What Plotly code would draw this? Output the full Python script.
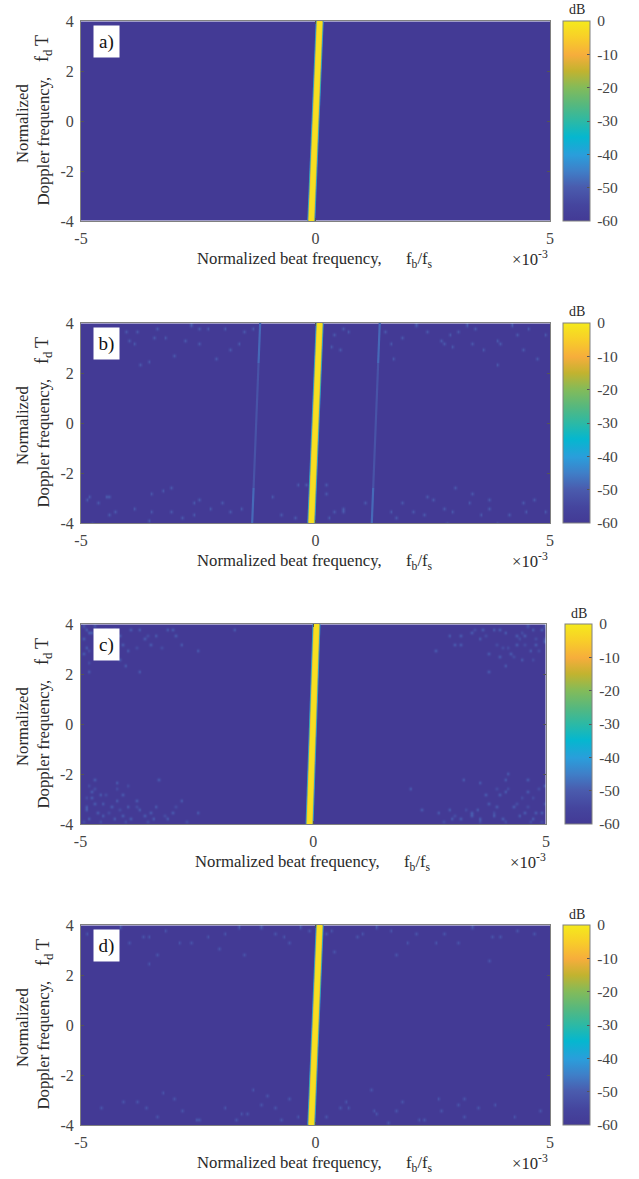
import plotly.graph_objects as go
from plotly.colors import sample_colorscale

PANEL_NAMES = ["a)", "b)", "c)", "d)"]
X_TICKS = [-5, 0, 5]
X_TICK_TEXT = ["-5", "0", "5"]
Y_TICKS = [-4, -2, 0, 2, 4]
Y_TICK_TEXT = ["-4", "-2", "0", "2", "4"]
DB_TICKS = [0, -10, -20, -30, -40, -50, -60]
DB_TICK_TEXT = ["\u20090", "\u2009-10", "\u2009-20", "\u2009-30", "\u2009-40", "\u2009-50", "\u2009-60"]
COLOR_STOPS = [
    [0.0, "#433a95"], [0.08, "#45459e"], [0.17, "#4a5cae"], [0.25, "#3f7fc8"],
    [0.33, "#2a9edb"], [0.42, "#05b7cf"], [0.5, "#2cb9a5"], [0.58, "#55b87f"],
    [0.67, "#85bb58"], [0.75, "#c2b32f"], [0.83, "#f6ad3c"], [0.92, "#f8cf28"],
    [1.0, "#f5ea1c"],
]
BASE_DB = -60

# ridge end points, x in units of 1e-3, at fd = -4 and fd = 4
FD_ENDS = [-4, 4]
A_RIDGE = [-0.09, 0.09]
B_RIDGE = [-0.09, 0.09]
C_RIDGE = [-0.08, 0.07]
D_RIDGE = [-0.09, 0.09]
RIDGE_DB = [-42, -28, -10, -2]
GHOST_FD = [-4, -2.6, 2.4, 4]
GHOST_LEFT = [-1.35, -1.32, -1.214, -1.18]
GHOST_RIGHT = [1.20, 1.23, 1.336, 1.37]
GHOST_DB = [-48, -52, -48]

B_SPOT_X = [-4.05, -3.8, -3.98, -3.84, -3.2, -3.38, -3.0, -2.46, -2.5, -2.1, -1.64, -1.36, -1.54, -3.42, -3.73, -2.78, -2.67, -1.92, -2.28, -3.56, -1.82,
            0.7, 0.42, 0.34, 0.49, 1.51, 1.62, 1.83, 2.12, 2.4, 2.65, 2.72, 2.93, 3.04, 3.43, 3.57, 3.93, 3.89, 4.39, 4.53, 4.88, 4.71, 3.86, 1.66, 2.86, 3.22, 3.32, 4.17, 4.32, 0.59,
            -4.83, -4.87, -4.66, -4.48, -4.41, -3.52, -3.09, -3.24, -2.63, -2.49, -2.03, -3.84, -4.27, -4.41, -3.49, -3.59, -3.06, -2.21, -1.82, -0.93, -0.72, -0.44, -0.37, -0.19, -4.73, -2.6, -2.84, -1.57,
            0.24, 0.42, 0.56, 0.2, 0.27, 1.05, 0.59, 1.59, 1.87, 2.37, 2.51, 2.97, 3.32, 3.25, 2.72, 2.9, 3.54, 3.68, 3.71, 4.14, 4.42, 4.67, 4.92, 4.49, 2.3, 1.73, 2.83, 2.05, 3.89]
B_SPOT_Y = [3.72, 3.72, 3.32, 3.25, 3.45, 3.85, 2.72, 3.19, 3.85, 2.65, 3.25, 3.85, 3.72, 3.45, 2.39, 3.32, 3.92, 3.85, 3.85, 2.45, 3.0,
            3.72, 3.59, 3.12, 2.92, 3.72, 3.19, 3.45, 3.92, 3.72, 3.32, 3.19, 3.12, 3.72, 3.85, 2.92, 3.19, 3.32, 3.0, 3.85, 3.52, 2.59, 2.32, 2.59, 3.52, 3.92, 3.25, 3.92, 3.59, 3.85,
            -2.88, -3.08, -3.21, -2.88, -2.88, -2.75, -2.55, -2.68, -3.21, -3.01, -3.21, -3.41, -3.55, -3.61, -3.48, -3.88, -3.55, -3.41, -3.55, -2.88, -3.61, -3.75, -2.48, -2.48, -3.95, -3.61, -3.81, -3.35,
            -2.48, -3.55, -3.55, -2.81, -3.75, -3.15, -3.35, -3.55, -3.21, -2.88, -3.01, -2.55, -2.81, -3.21, -3.41, -3.48, -3.61, -3.41, -3.01, -3.61, -3.21, -3.01, -3.55, -3.55, -3.68, -3.81, -3.95, -3.55, -3.95]
C_SPOT_X = [-4.9, -4.83, -4.75, -4.93, -4.9, -4.07, -4.0, -3.9, -3.72, -3.65, -3.47, -3.04, -2.96, -2.82, -2.5, -1.71, -4.79, -3.76, -4.04, -4.15, -3.36, -3.15, -4.25, -4.15, -4.93,
            -4.9, -4.86, -4.75, -4.72, -4.65, -4.5, -4.36, -4.22, -4.11, -4.0, -3.9, -3.72, -3.65, -3.5, -3.36, -3.29, -3.15, -2.82, -4.68, -4.83, -4.5, -4.22, -3.83, -3.43, -3.0, -2.5, -4.58, -4.75, -4.29, -4.07,
            3.01, 3.19, 2.61, 3.15, 3.87, 4.0, 4.15, 4.33, 4.54, 4.72, 4.9, 4.94, 3.79, 4.0, 4.12, 4.47, 4.65, 3.58, 2.93, 3.79, 4.76, 4.37, 3.65, 3.4, 4.22,
            3.37, 3.51, 3.4, 4.0, 4.15, 4.61, 4.79, 4.9, 3.72, 3.79, 3.94, 4.29, 4.44, 4.54, 2.08, 2.33, 2.69, 2.97, 3.15, 3.58, 3.87, 4.08, 4.69, 4.94, 3.22, 4.15, 3.58, 4.61, 4.19, 2.93]
C_SPOT_Y = [3.78, 3.65, 3.71, 3.38, 3.11, 3.25, 2.91, 3.78, 3.85, 3.38, 3.25, 3.78, 3.58, 3.25, 2.98, 3.85, 2.11, 2.11, 2.38, 2.65, 3.58, 3.85, 3.78, 3.58, 2.85,
            -3.42, -3.29, -2.69, -3.15, -3.55, -3.69, -3.29, -2.35, -2.75, -3.29, -3.82, -3.42, -3.69, -3.55, -3.29, -2.22, -3.82, -3.02, -2.22, -3.75, -3.15, -3.02, -3.09, -3.75, -3.55, -3.55, -2.82, -2.95, -3.75, -3.69,
            3.25, 3.25, 2.98, 3.58, 3.78, 3.85, 3.71, 3.58, 3.58, 3.78, 3.78, 3.31, 2.85, 2.78, 2.38, 2.58, 2.91, 3.38, 3.58, 2.11, 3.25, 3.25, 3.78, 3.71, 2.85,
            -3.55, -3.42, -3.69, -2.75, -2.69, -2.69, -3.49, -3.55, -2.82, -3.15, -3.29, -3.29, -3.69, -3.49, -2.55, -3.42, -3.49, -3.82, -3.82, -3.75, -3.69, -3.82, -3.75, -2.42, -2.22, -2.22, -2.35, -2.15, -1.95, -3.35]
# fainter cells filling the corners of panel c
C_FAINT_X = [-4.95, -4.7, -4.6, -4.45, -4.85, -4.55, -4.35, -3.55, -3.25, -4.95, -4.65, -4.4, -3.8, -4.2, -4.8, -4.95, -4.6, -4.4, -4.05, -3.8, -3.55, -3.2, -2.95, -2.7, -4.9, -4.7, -4.45, -4.2, -3.95, -4.6, -4.85, -4.15,
             4.95, 4.8, 4.6, 4.4, 4.2, 3.95, 3.7, 3.45, 4.85, 4.55, 4.3, 4.05, 4.7, 4.95, 4.5, 4.9, 4.65, 4.4, 4.1, 3.85, 3.6, 3.3, 3.05, 2.8, 4.95, 4.75, 4.45, 4.2, 3.95, 4.6, 4.85, 4.35]
C_FAINT_Y = [3.9, 3.9, 3.5, 3.85, 2.95, 3.2, 3.45, 3.6, 3.1, 3.5, 2.7, 2.9, 3.05, 3.35, 2.45, -3.9, -3.85, -3.5, -3.9, -3.25, -3.85, -3.65, -3.25, -3.85, -2.95, -2.55, -2.8, -2.6, -2.45, -3.9, -2.45, -3.35,
             3.9, 3.45, 3.9, 3.45, 3.1, 3.15, 3.6, 3.85, 2.95, 3.25, 2.75, 3.05, 2.6, 3.5, 3.65, -3.9, -3.85, -3.6, -3.9, -3.55, -3.9, -3.45, -3.6, -3.85, -3.1, -2.9, -2.95, -2.6, -2.5, -3.3, -2.5, -3.1]
D_SPOT_X = [-4.16, -3.7, -3.59, -3.95, -3.2, -2.92, -2.67, -2.28, -1.93, -1.64, -1.54, -2.07, -3.38, -3.59, -0.86, -0.68, -0.58, -0.15, -0.29, 0.34, 0.2, 0.38, 0.88, 0.98, 1.3, 1.69, 2.12, 2.54, 2.76, 3.07, 3.36, 3.78, 3.96, 4.32, 4.64, 3.71, -1.18, -4.9, 1.62, 1.98,
            -1.32, 1.16, -2.49, -2.56, -1.46, -1.57, -1.18, -1.93, -0.86, -0.58, -3.63, -3.77, -3.38, -2.81, -1.71, -4.58, -4.12, -3.02, -3.24, -0.72, -0.37, 0.2, 0.49, 0.63, 0.7, 1.3, 1.23, 1.73, 2.33, 2.22, 2.65, 3.15, 3.04, 3.46, 3.18, 3.82, 4.25, 4.81, 1.87, -1.04, 2.61, 1.55]
D_SPOT_Y = [3.93, 3.6, 3.53, 3.27, 3.8, 3.33, 3.27, 3.6, 3.73, 3.87, 2.8, 3.07, 2.8, 2.53, 3.67, 3.53, 3.33, 3.8, 3.93, 3.8, 3.67, 2.93, 3.53, 3.73, 3.93, 2.8, 3.73, 3.27, 3.67, 3.33, 3.87, 3.53, 3.6, 3.8, 3.73, 2.6, 3.93, 3.73, 3.8, 3.33,
            -2.6, -2.6, -3.73, -3.73, -3.53, -3.53, -3.2, -3.33, -3.33, -2.93, -3.33, -3.07, -3.6, -3.4, -3.8, -3.33, -3.0, -2.87, -2.73, -3.73, -3.67, -3.67, -3.33, -3.07, -3.33, -3.53, -3.4, -3.4, -3.73, -3.73, -3.4, -2.93, -3.13, -3.33, -3.6, -3.2, -3.67, -3.4, -3.0, -2.8, -2.87, -3.87]
B_SPOT_DB = -50
C_SPOT_DB = -49
C_FAINT_DB = -52
D_SPOT_DB = -51

RIDGES = [A_RIDGE, B_RIDGE, C_RIDGE, D_RIDGE]
SPOTS = [[], [(B_SPOT_X, B_SPOT_Y, B_SPOT_DB)],
         [(C_FAINT_X, C_FAINT_Y, C_FAINT_DB), (C_SPOT_X, C_SPOT_Y, C_SPOT_DB)],
         [(D_SPOT_X, D_SPOT_Y, D_SPOT_DB)]]

W, H = 639, 1179
TOPS = [21, 323, 624, 925]
LEFTS = [81, 81, 80.5, 81]
RIGHTS = [550, 550, 546, 550]
BAR_LEFTS = [563, 563, 565, 563]
PANEL_H, BAR_W, RIDGE_W = 200, 27, [8, 7, 6, 5]
DX, DY = 0.06, 0.12
NX, NY = 167, 67
FONT = "Liberation Serif"
TXT, TICK = "#2a2a2a", "#444444"

grid_x = [-5 + i * DX for i in range(NX)]
grid_y = [-4 + j * DY for j in range(NY)]

fig = go.Figure()
annotations = []

def note(px, py, text, size=16.7, angle=0, color=TXT, **kw):
    annotations.append(dict(xref="paper", yref="paper", x=px / W, y=1 - py / H, text=text,
                            showarrow=False, textangle=angle, xanchor="center", yanchor="middle",
                            font=dict(family=FONT, size=size, color=color), **kw))

for k, name in enumerate(PANEL_NAMES):
    suffix = "" if k == 0 else str(k + 1)
    top, left, right = TOPS[k], LEFTS[k], RIGHTS[k]
    z = [[BASE_DB] * NX for _ in range(NY)]
    for sx, sy, sdb in SPOTS[k]:
        for a, b in zip(sx, sy):
            z[round((b + 4) / DY)][round((a + 5) / DX)] = sdb
    fig.add_trace(go.Heatmap(x=grid_x, y=grid_y, z=z, coloraxis=f"coloraxis{suffix}",
                             zsmooth="best", xaxis=f"x{suffix}", yaxis=f"y{suffix}", hoverinfo="skip"))
    if k == 1:
        for g in (GHOST_LEFT, GHOST_RIGHT):
            for i, gdb in enumerate(GHOST_DB):
                fig.add_trace(go.Scatter(x=g[i:i + 2], y=GHOST_FD[i:i + 2], mode="lines", hoverinfo="skip", showlegend=False,
                                         line=dict(width=2.2, color=sample_colorscale(COLOR_STOPS, (gdb + 60) / 60)[0]),
                                         xaxis=f"x{suffix}", yaxis=f"y{suffix}"))
    for db, width in zip(RIDGE_DB, RIDGE_W):
        fig.add_trace(go.Scatter(x=RIDGES[k], y=FD_ENDS, mode="lines", hoverinfo="skip", showlegend=False,
                                 line=dict(width=width, color=sample_colorscale(COLOR_STOPS, (db + 60) / 60)[0]),
                                 xaxis=f"x{suffix}", yaxis=f"y{suffix}"))
    axis = dict(showgrid=False, zeroline=False, showline=True, linecolor="#808080", linewidth=1,
                mirror="ticks", ticks="inside", ticklen=3, tickcolor="#555555", tickwidth=1,
                ticklabelstandoff=3, tickfont=dict(family=FONT, size=16, color=TICK))
    fig.layout[f"xaxis{suffix}"] = dict(axis, domain=[left / W, right / W], range=[-5, 5],
                                        anchor=f"y{suffix}", tickvals=X_TICKS, ticktext=X_TICK_TEXT)
    fig.layout[f"yaxis{suffix}"] = dict(axis, domain=[1 - (top + PANEL_H) / H, 1 - top / H], range=[-4, 4],
                                        anchor=f"x{suffix}", tickvals=Y_TICKS, ticktext=Y_TICK_TEXT)
    fig.layout[f"coloraxis{suffix}"] = dict(
        colorscale=COLOR_STOPS, cmin=-60, cmax=0,
        colorbar=dict(x=BAR_LEFTS[k] / W, xanchor="left", y=1 - top / H, yanchor="top", xpad=0, ypad=0,
                      len=PANEL_H, lenmode="pixels", thickness=BAR_W, thicknessmode="pixels",
                      outlinecolor="#808080", outlinewidth=1, borderwidth=0, tickmode="array",
                      tickvals=DB_TICKS, ticktext=DB_TICK_TEXT, ticks="inside", ticklen=3,
                      tickcolor="#555555", tickfont=dict(family=FONT, size=15.5, color=TICK)))
    shift = -2 if k == 2 else 0
    note(289.5 + shift, top + 237, "Normalized beat frequency,")
    note(419 + shift, top + 239, "f<sub>b</sub>/f<sub>s</sub>")
    note(530 + shift, top + 237, "×10<sup>-3</sup>")
    note(22, top + 103, "Normalized", angle=-90)
    note(43, top + 120.5, "Doppler frequency,", angle=-90)
    note(44, top + 28, "f<sub>d</sub>\u2009T", size=18, angle=-90)
    note(BAR_LEFTS[k] + 13.5, top - 11, "dB", size=14)
    note(left + 25.5, top + 20.5, name, size=19, color="#111111", bgcolor="white",
         width=25, height=31, borderpad=0)

fig.update_layout(width=W, height=H, margin=dict(l=0, r=0, t=0, b=0, autoexpand=False), paper_bgcolor="white",
                  plot_bgcolor="white", showlegend=False, annotations=annotations)
fig.write_html("out.html", post_script="document.body.style.margin='0';", config={"displayModeBar": False})
